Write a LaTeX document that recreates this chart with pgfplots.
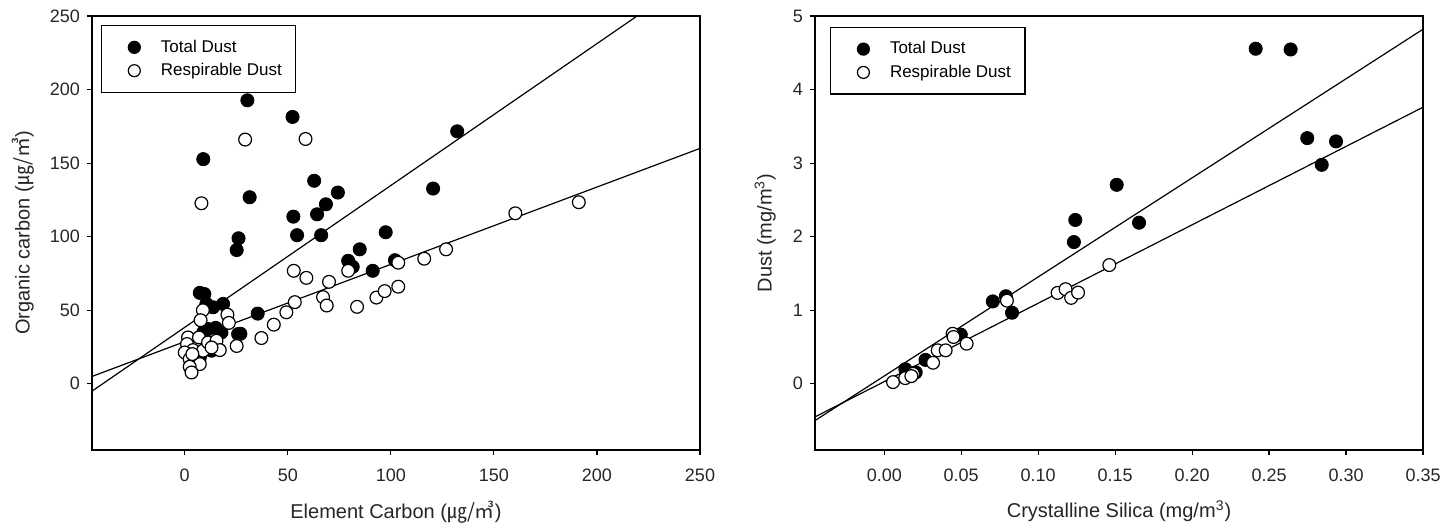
\documentclass[border=0pt]{standalone}
\usepackage{fontspec}
\setmainfont{Liberation Sans}
\newfontfamily\cjk{Noto Sans CJK KR}
\usepackage{pgfplots}
\pgfplotsset{compat=1.18}

\pgfplotsset{
  dustax/.style={
    scale only axis, width=304pt, height=217pt,
    axis line style={line width=0.75pt},
    tick align=outside, xtick pos=bottom, ytick pos=left,
    major tick length=2.5pt, tick style={line width=0.6pt, black},
    tick label style={font=\fontsize{9}{10.5}\selectfont, text=black!85},
    xticklabel style={yshift=-3.5pt},
    label style={font=\fontsize{10}{12}\selectfont, text=black!85},
    /pgf/number format/assume math mode=true,
    legend cell align=left,
    legend style={draw=black, line width=0.6pt, anchor=north west,
      font=\fontsize{8.5}{10}\selectfont, inner xsep=5pt, inner ysep=5pt,
      row sep=0pt},
    legend image code/.code={%
      \path (0pt,0pt) (22pt,0pt);
      \draw[mark repeat=2,mark phase=2,mark size=3pt] plot coordinates {(0pt,0pt)(11pt,0pt)(22pt,0pt)};},
  },
  tot/.style={only marks, mark=*, mark size=3.3pt, mark options={fill=black, draw=black}},
  resp/.style={only marks, mark=*, mark size=3.2pt, mark options={fill=white, draw=black, line width=0.6pt}},
  fit/.style={black, line width=0.6pt, no marks},
}

\begin{document}
\begin{tikzpicture}
\path[use as bounding box] (-46pt,-36.5pt) rectangle (679.5pt,225pt);

\begin{axis}[dustax,
  xmin=-45, xmax=250, ymin=-45, ymax=250,
  xtick={0,50,...,250}, ytick={0,50,...,250},
  xlabel={Element Carbon ({\cjk ㎍/㎥})},
  ylabel={Organic carbon ({\cjk ㎍/㎥})},
  xlabel style={at={(axis description cs:0.5,-0.143)}, anchor=center},
  ylabel style={at={(axis description cs:-0.113,0.5)}, anchor=center},
  legend style={at={(axis description cs:0.015,0.979)}},
]
\addplot[tot] coordinates {
  (30.4,192.7)(52.3,181.4)(9,152.7)(132.2,171.6)(31.5,126.8)(62.8,138)
  (74.3,130)(52.7,113.6)(64.2,115.2)(68.5,122)(54.5,101)(66.2,101)
  (26.1,98.9)(25.2,90.9)(120.5,132.7)(97.5,103)(84.9,91.4)(79.3,83.6)
  (81.5,79.5)(91.2,76.8)(102,84)(35.4,47.7)(27,34)(7.3,61.8)(9.5,61)
  (10.5,54.3)(13.7,52)(18.6,54.3)(11.3,37.2)(17.8,34.9)(25.9,33.8)
  (7.3,17.9)(13,22.5)(9,35)(15,38)};
\addlegendentry{Total Dust}
\addplot[resp] coordinates {
  (29.3,166)(58.6,166.4)(8.1,122.7)(160.4,115.9)(191.2,123.4)(126.8,91.4)
  (116.2,85)(103.6,82.3)(79.3,76.8)(52.9,76.8)(59,72)(70,69.3)(67.1,58.9)
  (68.9,53.2)(83.6,52.3)(93,58.6)(97,63)(103.6,66)(53.4,55.5)(49.3,48.6)
  (43.2,40.2)(37.2,31.1)(25.2,25.7)(20.7,47)(21.4,41.4)(8.8,50)(7.7,43.2)
  (1.6,31.5)(6.9,31.5)(1.1,27)(4,22.9)(0,21.3)(8.9,22.5)(11.3,28.1)
  (15.4,29.3)(17,22.9)(13,24.7)(2.4,16.8)(7.3,13.4)(2.4,11.6)(3.3,7.7)
  (3.7,20.2)};
\addlegendentry{Respirable Dust}
\addplot[fit, forget plot] coordinates {(-45,-5)(219.5,250)};
\addplot[fit, forget plot] coordinates {(-45,5)(250,160)};
\end{axis}

\begin{axis}[dustax, at={(361.5pt,0pt)},
  xmin=-0.045, xmax=0.35, ymin=-0.9, ymax=5,
  xtick={0,0.05,...,0.35}, ytick={0,1,...,5},
  xticklabel style={/pgf/number format/.cd, fixed, fixed zerofill, precision=2},
  scaled x ticks=false,
  xlabel={Crystalline Silica (mg/m\textsuperscript{3})},
  ylabel={Dust (mg/m\textsuperscript{3})},
  xlabel style={at={(axis description cs:0.5,-0.141)}, anchor=center},
  ylabel style={at={(axis description cs:-0.082,0.5)}, anchor=center},
  legend style={at={(axis description cs:0.025,0.975)}},
]
\addplot[tot] coordinates {
  (0.2413,4.555)(0.264,4.545)(0.2748,3.34)(0.2935,3.295)(0.2842,2.977)
  (0.151,2.705)(0.1655,2.19)(0.1241,2.227)(0.1232,1.927)(0.0705,1.12)
  (0.079,1.19)(0.083,0.966)(0.0497,0.668)(0.0268,0.325)(0.0137,0.198)
  (0.0204,0.155)};
\addlegendentry{Total Dust}
\addplot[resp] coordinates {
  (0.1462,1.614)(0.1126,1.236)(0.1178,1.286)(0.1214,1.168)(0.1259,1.24)
  (0.0797,1.13)(0.0057,0.023)(0.0136,0.077)(0.0187,0.136)(0.0317,0.286)
  (0.0347,0.455)(0.0399,0.455)(0.0444,0.68)(0.045,0.636)(0.0535,0.545)
  (0.0176,0.105)};
\addlegendentry{Respirable Dust}
\addplot[fit, forget plot] coordinates {(-0.045,-0.5)(0.35,4.82)};
\addplot[fit, forget plot] coordinates {(-0.045,-0.45)(0.35,3.76)};
\end{axis}
\end{tikzpicture}
\end{document}
